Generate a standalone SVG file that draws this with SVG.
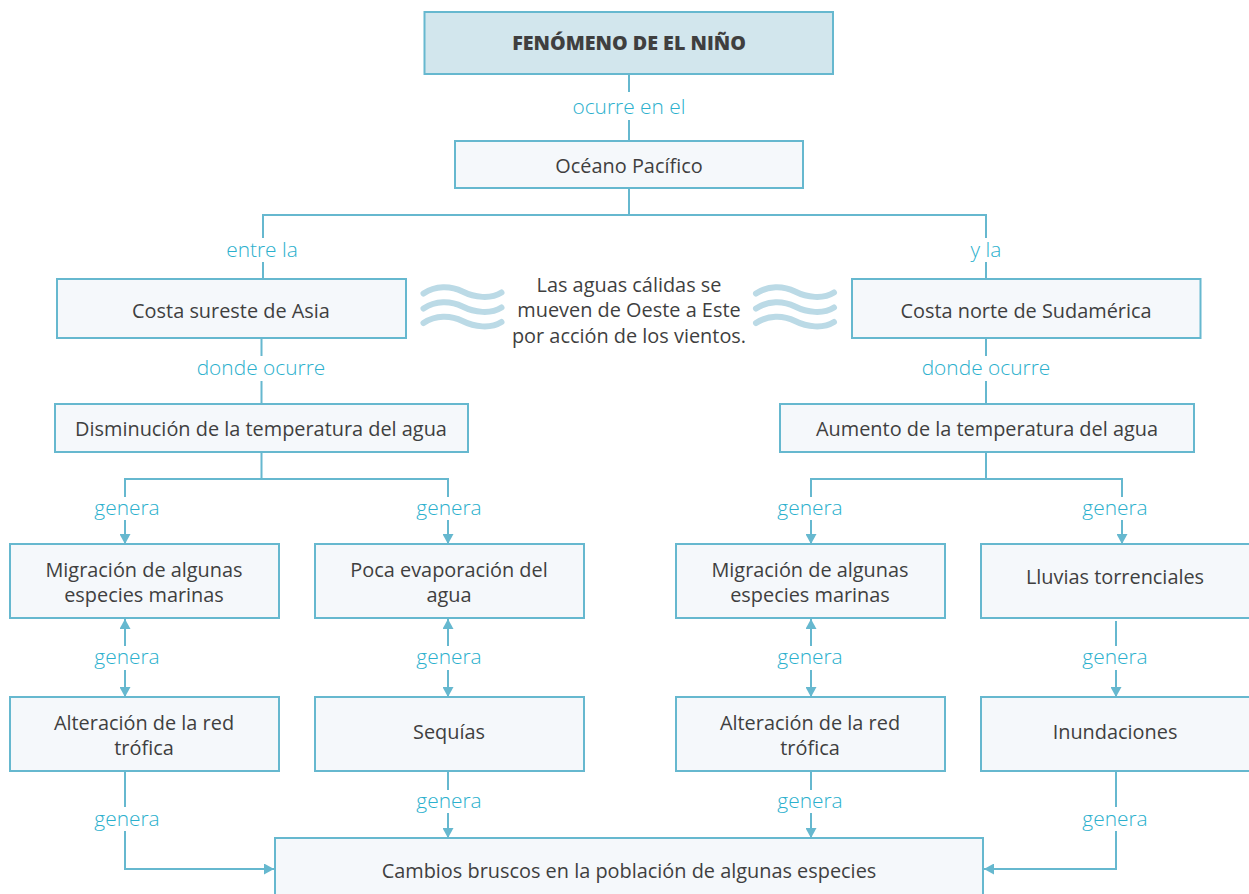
<svg xmlns="http://www.w3.org/2000/svg" width="1249" height="894" viewBox="0 0 1249 894">
<style>
.b{fill:#f5f8fb;stroke:#66b8cf;stroke-width:2}
.t{font-family:"Open Sans","Liberation Sans",sans-serif;font-size:19.900px;fill:#3f3f3f;text-anchor:middle}
.l{font-family:"Open Sans","Liberation Sans",sans-serif;font-size:20.900px;font-weight:300;fill:#2bb0cd;text-anchor:middle}
.c{fill:none;stroke:#66b8cf;stroke-width:2}
.w{fill:none;stroke:#bbdae6;stroke-width:6;stroke-linecap:round}
</style>
<defs>
<marker id="a" markerUnits="userSpaceOnUse" markerWidth="11" markerHeight="11" refX="10" refY="5.5" orient="auto-start-reverse"><path d="M0 0L10 5.500L0 11Z" fill="#66b8cf"/></marker>
<g id="wave"><path class="w" d="M0 0C12-8 27-8 39-2S67 6 78-1"/></g>
</defs>
<rect width="1249" height="894" fill="#fff"/>
<g id="connectors">
<path class="c" d="M629 74V92M629 120V141M629 188V215M263 238V215H986V238M263 262V279M986 262V279"/>
<path class="c" d="M261.500 338V356M261.500 381V404M986 338V356M986 381V404"/>
<path class="c" d="M261.500 452V479M125 497V479H448V497M986 452V479M811 497V479H1122V497"/>
<path class="c" marker-end="url(#a)" d="M125 520V544"/>
<path class="c" marker-end="url(#a)" d="M448 520V544"/>
<path class="c" marker-end="url(#a)" d="M811 520V544"/>
<path class="c" marker-end="url(#a)" d="M1122 520V544"/>
<path class="c" marker-end="url(#a)" d="M125 646V619"/>
<path class="c" marker-end="url(#a)" d="M125 670V697"/>
<path class="c" marker-end="url(#a)" d="M448 646V619"/>
<path class="c" marker-end="url(#a)" d="M448 670V697"/>
<path class="c" marker-end="url(#a)" d="M811 646V619"/>
<path class="c" marker-end="url(#a)" d="M811 670V697"/>
<path class="c" d="M1116 621V646"/>
<path class="c" marker-end="url(#a)" d="M1116 670V697"/>
<path class="c" d="M125 771V807M1116 771V807M448 771V790M811 771V790"/>
<path class="c" marker-end="url(#a)" d="M448 813V838"/>
<path class="c" marker-end="url(#a)" d="M811 813V838"/>
<path class="c" marker-end="url(#a)" d="M125 831V869H274"/>
<path class="c" marker-end="url(#a)" d="M1116 831V869H984"/>
</g>
<g id="labels">
<text class="l" x="629" y="114">ocurre en el</text>
<text class="l" x="262" y="257">entre la</text>
<text class="l" x="986" y="257">y la</text>
<text class="l" x="261" y="375">donde ocurre</text>
<text class="l" x="986" y="375">donde ocurre</text>
<text class="l" x="127" y="515">genera</text>
<text class="l" x="449" y="515">genera</text>
<text class="l" x="810" y="515">genera</text>
<text class="l" x="1115" y="515">genera</text>
<text class="l" x="127" y="664">genera</text>
<text class="l" x="449" y="664">genera</text>
<text class="l" x="810" y="664">genera</text>
<text class="l" x="1115" y="664">genera</text>
<text class="l" x="449" y="808">genera</text>
<text class="l" x="810" y="808">genera</text>
<text class="l" x="127" y="826">genera</text>
<text class="l" x="1115" y="826">genera</text>
</g>
<g id="n-title"><rect class="b" style="fill:#d2e6ed" x="424.500" y="12" width="408.500" height="62"/><text class="t" style="font-weight:800;font-size:19.700px" x="629" y="50">FENÓMENO DE EL NIÑO</text></g>
<g id="n-oceano"><rect class="b" x="455" y="141" width="348" height="47"/><text class="t" x="629" y="173">Océano Pacífico</text></g>
<g id="n-asia"><rect class="b" x="57" y="279" width="349" height="59"/><text class="t" x="231" y="318">Costa sureste de Asia</text></g>
<g id="n-sudamerica"><rect class="b" x="852" y="279" width="348.500" height="59"/><text class="t" x="1026" y="318">Costa norte de Sudamérica</text></g>
<g id="n-nota"><text class="t" x="629" y="292">Las aguas cálidas se</text><text class="t" x="629" y="317">mueven de Oeste a Este</text><text class="t" x="629" y="343">por acción de los vientos.</text></g>
<g id="n-wave-l"><use href="#wave" x="423.500" y="293.500"/><use href="#wave" x="423.500" y="308.500"/><use href="#wave" x="423.500" y="323"/></g>
<g id="n-wave-r"><use href="#wave" x="756" y="293.500"/><use href="#wave" x="756" y="308.500"/><use href="#wave" x="756" y="323"/></g>
<g id="n-dism"><rect class="b" x="55" y="404" width="413" height="48"/><text class="t" x="261" y="436">Disminución de la temperatura del agua</text></g>
<g id="n-aum"><rect class="b" x="780" y="404" width="414" height="48"/><text class="t" x="987" y="436">Aumento de la temperatura del agua</text></g>
<g id="n-mig1"><rect class="b" x="10" y="544" width="269" height="74"/><text class="t" x="144" y="577">Migración de algunas</text><text class="t" x="144" y="602">especies marinas</text></g>
<g id="n-evap"><rect class="b" x="315" y="544" width="269" height="74"/><text class="t" x="449" y="577">Poca evaporación del</text><text class="t" x="449" y="602">agua</text></g>
<g id="n-mig2"><rect class="b" x="676" y="544" width="269" height="74"/><text class="t" x="810" y="577">Migración de algunas</text><text class="t" x="810" y="602">especies marinas</text></g>
<g id="n-lluvias"><rect class="b" x="981" y="544" width="269" height="74"/><text class="t" x="1115" y="584">Lluvias torrenciales</text></g>
<g id="n-alt1"><rect class="b" x="10" y="697" width="269" height="74"/><text class="t" x="144" y="730">Alteración de la red</text><text class="t" x="144" y="755">trófica</text></g>
<g id="n-sequias"><rect class="b" x="315" y="697" width="269" height="74"/><text class="t" x="449" y="739">Sequías</text></g>
<g id="n-alt2"><rect class="b" x="676" y="697" width="269" height="74"/><text class="t" x="810" y="730">Alteración de la red</text><text class="t" x="810" y="755">trófica</text></g>
<g id="n-inund"><rect class="b" x="981" y="697" width="269" height="74"/><text class="t" x="1115" y="739">Inundaciones</text></g>
<g id="n-cambios"><rect class="b" x="275" y="838" width="708" height="60"/><text class="t" x="629" y="878">Cambios bruscos en la población de algunas especies</text></g>
</svg>
